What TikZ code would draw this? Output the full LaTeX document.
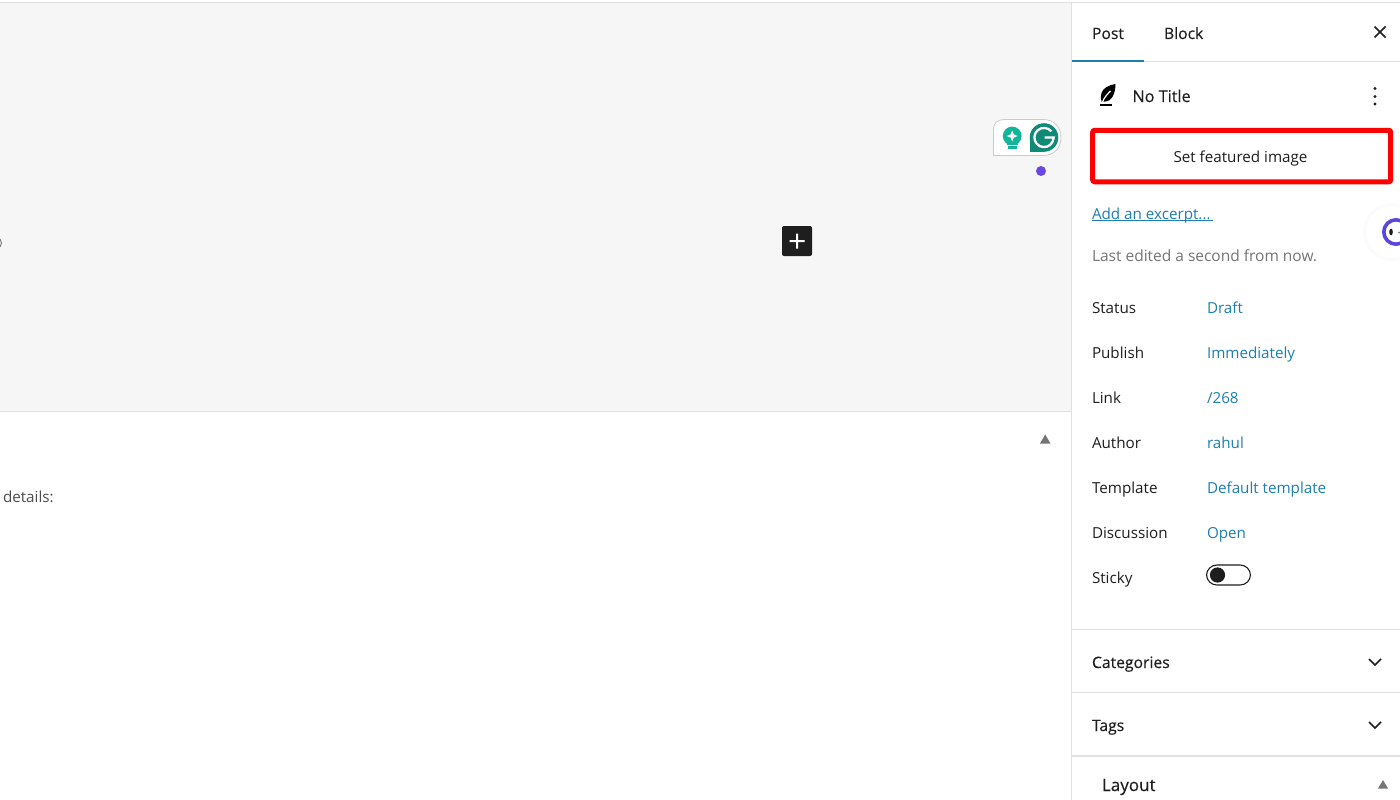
\documentclass[tikz,border=0pt]{standalone}
\usepackage{fontspec}
\setmainfont{Open Sans}
\newfontfamily\medfont[FakeBold=0.25]{Open Sans}
\definecolor{canvas}{HTML}{F6F6F6}
\definecolor{rulec}{HTML}{E0E0E0}
\definecolor{wpblue}{HTML}{1E7FAE}
\definecolor{ink}{HTML}{1E1E1E}
\definecolor{muted}{HTML}{757575}
\definecolor{gteal}{HTML}{0F8A76}
\definecolor{gmint}{HTML}{12B59A}
\definecolor{gdot}{HTML}{6A47E0}
\definecolor{widgetring}{HTML}{5B45E0}
\tikzset{
  x=1pt,y=-1pt,
  lbl/.style={anchor=base west,inner sep=0pt,outer sep=0pt,font=\fontsize{15.2}{17}\selectfont,text=ink},
  val/.style={lbl,text=wpblue},
  med/.style={lbl,font=\medfont\fontsize{15.7}{18}\selectfont},
  hair/.style={draw=rulec,line width=1.2pt},
  chev/.style={draw=ink,line width=1.7pt},
}
\begin{document}
\begin{tikzpicture}
\useasboundingbox (0,0) rectangle (1400,800);
\fill[white] (0,0) rectangle (1400,800);
% canvas
\fill[canvas] (0,3) rectangle (1071,411);
\draw[hair] (0,2.2) -- (1400,2.2);
\draw[hair] (0,411.5) -- (1071,411.5);
\draw[hair] (1071.5,3) -- (1071.5,800);
% tabs
\draw[hair] (1072,61.5) -- (1400,61.5);
\draw[draw=wpblue,line width=1.8pt] (1072,61) -- (1144,61);
\node[med] (post) at (1092,39) {Post};
\node[med] (block) at (1164,39) {Block};
\draw[draw=ink,line width=1.6pt] (1374.5,26.5) -- (1385.5,37.5) (1385.5,26.5) -- (1374.5,37.5);
% title row
\fill[black] (1099.5,104.2) rectangle (1112,105.8);
\fill[black] (1101.5,101.5) .. controls (1099,92) and (1104,86) .. (1115.5,84)
  .. controls (1115.5,93) and (1112,101.5) .. (1105,101.5) -- cycle;
\draw[white,line width=1.2pt] (1102.5,102) .. controls (1104,98) and (1106.5,95) .. (1110.5,91);
\node[med,font=\medfont\fontsize{16.2}{18}\selectfont] (title) at (1132.5,102) {No Title};
\foreach \yy in {88.5,96.5,104} \fill[ink] (1375,\yy) circle (1.6);
% featured image button
\node[draw=red,line width=5pt,rounded corners=2pt,minimum width=298pt,minimum height=51.5pt,inner sep=0pt,outer sep=0pt] (featured) at (1241.7,156) {};
\node[lbl,anchor=base] (featuredtext) at (1240.5,162) {Set featured image};
% excerpt
\node[val] (excerpt) at (1092,219) {Add an excerpt...};
\draw[wpblue,line width=0.9pt] (excerpt.base west)++(0,1.8) -- ++(120.5,0);
\node[lbl,text=muted,font=\fontsize{15.5}{17}\selectfont] (edited) at (1092,261) {Last edited a second from now.};
% properties
\node[lbl] (status) at (1092,313) {Status};
\node[val] (statusv) at (1207,313) {Draft};
\node[lbl] (publish) at (1092,358) {Publish};
\node[val] (publishv) at (1207,358) {Immediately};
\node[lbl] (link) at (1092,403) {Link};
\node[val] (linkv) at (1207,403) {/268};
\node[lbl] (author) at (1092,448) {Author};
\node[val] (authorv) at (1207,448) {rahul};
\node[lbl] (template) at (1092,493) {Template};
\node[val] (templatev) at (1207,493) {Default template};
\node[lbl] (discussion) at (1092,538) {Discussion};
\node[val] (discussionv) at (1207,538) {Open};
\node[lbl] (sticky) at (1092,583) {Sticky};
% toggle
\draw[draw=ink,line width=1.1pt,fill=white,rounded corners=10.4pt] (1206.5,565) rectangle (1250.5,585);
\fill[ink] (1217.5,575) circle (7.6);
% panels
\draw[hair] (1072,629.5) -- (1400,629.5);
\node[med] (categories) at (1092,668) {Categories};
\draw[chev] (1369,659) -- (1375,665) -- (1381,659);
\draw[hair] (1072,692.5) -- (1400,692.5);
\node[med] (tags) at (1092,731) {Tags};
\draw[chev] (1369,722) -- (1375,728) -- (1381,722);
\draw[draw=rulec,line width=2pt] (1072,756) -- (1400,756);
\node[med,font=\medfont\fontsize{17}{19}\selectfont] (layout) at (1102,791) {Layout};
\fill[muted] (1378,788.5) -- (1388,788.5) -- (1383,780) -- cycle;
% inserter
\node[fill=ink,rounded corners=2pt,minimum size=30pt,inner sep=0pt] (plus) at (797,241) {};
\fill[white] (789.5,240) rectangle (804.5,242) (796,233.5) rectangle (798,248.5);
% lower left
\node[lbl,text=black!70] (details) at (3,502) {details:};
\fill[muted] (1040,443.5) -- (1050.5,443.5) -- (1045.2,434.5) -- cycle;
\draw[muted,line width=0.9pt] (0,239) -- (1.5,243) (0,247) -- (1.5,243);
% grammarly bubble
\draw[draw=rulec!90!black,fill=white,line width=0.8pt] (993.5,155.5) -- (993.5,129) .. controls (993.5,123) and (998,119.5) .. (1004,119.5)
  -- (1043,119.5) .. controls (1054,119.5) and (1061,127) .. (1061,137.5) .. controls (1061,148) and (1054,155.5) .. (1043,155.5) -- cycle;
\fill[gmint] (1012.2,136) circle (9.4);
\fill[gmint] (1006.8,141) rectangle (1017.6,145);
\fill[gmint] (1007.8,146.2) rectangle (1016.6,149.2);
\fill[white] (1012.2,130.5) -- (1013.8,134.4) -- (1017.7,136) -- (1013.8,137.6) -- (1012.2,141.5) -- (1010.6,137.6) -- (1006.7,136) -- (1010.6,134.4) -- cycle;
\fill[gteal] (1044,137.5) circle (14.3);
\fill[gteal] (1029.7,137.5) rectangle (1044,151.8);
\draw[white,line width=2.3pt] (1044,137.5) ++(-40:9.6) arc[start angle=-40,end angle=-360,radius=9.6] -- (1044.5,137.5);
\fill[gdot] (1041,171) circle (5);
% floating widget
\fill[black!1.5] (1392,232) circle (29);
\fill[white] (1392,232) circle (26);
\draw[line width=3.6pt,draw=widgetring] (1396,232) circle (12.2);
\fill[ink] (1391,232) ellipse (1.8 and 3.4);
\fill[muted] (1399,232.5) circle (1);
\end{tikzpicture}
\end{document}
